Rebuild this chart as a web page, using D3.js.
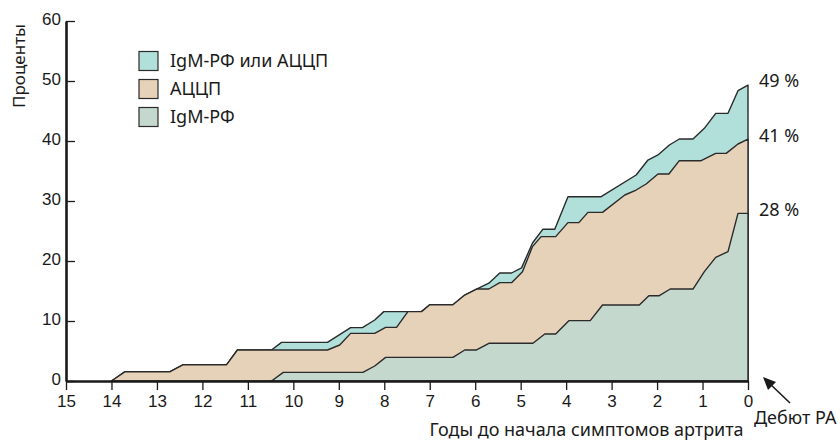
<!DOCTYPE html>
<html>
<head>
<meta charset="utf-8">
<script src="https://cdn.jsdelivr.net/npm/d3@7"></script>
<style>
  body { margin: 0; background: #fff; }
  svg { font-family: "Noto Sans", "Open Sans", sans-serif; }
  .axis path, .axis line { stroke: #1a1a1a; }
  .axis text { font-size: 17px; fill: #1a1a1a; }
</style>
</head>
<body>
<svg id="chart"></svg>
<script>
// years before onset, percent positive
var anyPos = [[14,0],[13.7,1.55],[12.71,1.55],[12.43,2.7],[11.47,2.7],[11.23,5.17],[10.48,5.17],[10.26,6.44],
  [9.25,6.44],[8.74,8.9],[8.48,8.9],[8.21,10.17],[8.01,11.56],[7.48,11.56],[7.18,11.56],[7.0,12.72],[6.49,12.72],
  [6.23,14.33],[5.97,15.33],[5.7,16.3],[5.46,18.0],[5.2,18.0],[4.98,18.85],[4.74,23.0],[4.51,25.3],[4.25,25.3],
  [3.96,30.72],[3.23,30.72],[2.46,34.33],[2.2,36.83],[1.98,37.67],[1.73,39.33],[1.51,40.33],[1.21,40.33],
  [0.96,42.11],[0.71,44.61],[0.44,44.61],[0.22,48.39],[0,49.33]];
var acpa = [[14,0],[13.7,1.55],[12.71,1.55],[12.43,2.7],[11.47,2.7],[11.23,5.17],[9.25,5.17],[8.98,6.0],
  [8.74,7.94],[8.21,7.94],[7.97,8.94],[7.73,8.94],[7.48,11.56],[7.18,11.56],[7.0,12.72],[6.49,12.72],[6.23,14.33],
  [5.97,15.33],[5.7,15.33],[5.46,16.39],[5.2,16.39],[4.96,18.22],[4.74,22.4],[4.55,24.06],[4.23,24.06],
  [3.96,26.39],[3.72,26.39],[3.52,28.11],[3.2,28.11],[2.71,31],[2.46,31.83],[2.24,32.83],[1.98,34.5],
  [1.74,34.5],[1.51,36.72],[1.03,36.72],[0.71,37.94],[0.48,37.94],[0.22,39.5],[0,40.3]];
var rf = [[10.48,0],[10.22,1.44],[8.47,1.44],[8.21,2.5],[7.97,3.94],[6.49,3.94],[6.23,5.17],[5.97,5.17],
  [5.7,6.28],[4.73,6.28],[4.47,7.83],[4.23,7.83],[3.94,10.06],[3.47,10.06],[3.2,12.67],[2.39,12.67],
  [2.18,14.22],[1.95,14.22],[1.71,15.33],[1.21,15.33],[0.96,18.22],[0.71,20.61],[0.44,21.56],[0.22,27.94],[0,27.94]];

var seriesNames = ["IgM-РФ или АЦЦП", "АЦЦП", "IgM-РФ"];
var seriesColors = ["#b1dfda", "#e6d2b9", "#c5d8cd"];
var endLabels = ["49 %", "41 %", "28 %"];
var endValues = [49.33, 40.3, 27.94];
var xTicks = d3.range(0, 16);
var yTicks = [0, 10, 20, 30, 40, 50, 60];

var width = 840, height = 441;
var margin = {top: 21, right: 92, bottom: 60, left: 66};
var innerwidth = width - margin.left - margin.right,
    innerheight = height - margin.top - margin.bottom;

var x = d3.scaleLinear().domain([15, 0]).range([0, innerwidth]);
var y = d3.scaleLinear().domain([0, 60]).range([innerheight, 0]);

var svg = d3.select("#chart")
    .attr("width", width)
    .attr("height", height)
    .append("g")
    .attr("transform", "translate(" + margin.left + "," + margin.top + ")");

var area = d3.area()
    .x(function(d) { return x(d[0]); })
    .y0(y(0))
    .y1(function(d) { return y(d[1]); });

[anyPos, acpa, rf].forEach(function(s, i) {
    svg.append("path")
        .datum(s)
        .attr("d", area)
        .attr("fill", seriesColors[i])
        .attr("stroke", "#2a2a2a")
        .attr("stroke-width", 1.4)
        .attr("stroke-linejoin", "round");
});

svg.append("g")
    .attr("class", "x axis")
    .attr("transform", "translate(0," + innerheight + ")")
    .call(d3.axisBottom(x).tickValues(xTicks).tickSize(9).tickSizeOuter(0).tickPadding(5))
    .call(function(g) { g.select(".domain").attr("stroke-width", 2.6); })
    .call(function(g) { g.selectAll(".tick line").attr("stroke-width", 1.3); });

svg.append("g")
    .attr("class", "y axis")
    .call(d3.axisLeft(y).tickValues(yTicks).tickSize(-9).tickSizeOuter(0).tickPadding(5))
    .call(function(g) { g.select(".domain").attr("stroke-width", 2.6); })
    .call(function(g) { g.selectAll(".tick line").attr("stroke-width", 1.3); })
    .call(function(g) { g.selectAll(".tick text").attr("dy", "0.2em"); });

// end labels
svg.selectAll(".endlabel")
    .data(endLabels)
    .enter().append("text")
    .attr("x", x(0) + 11)
    .attr("y", function(d, i) { return y(endValues[i]) - 4; })
    .attr("dy", "0.35em")
    .attr("font-size", 18)
    .attr("fill", "#1a1a1a")
    .text(function(d) { return d; });

// legend
var legend = svg.append("g").attr("transform", "translate(73,40)");
seriesNames.forEach(function(name, i) {
    var row = legend.append("g").attr("transform", "translate(0," + (i * 28) + ")");
    row.append("rect")
        .attr("x", 0).attr("y", -9.5)
        .attr("width", 19).attr("height", 19)
        .attr("fill", seriesColors[i])
        .attr("stroke", "#2a2a2a")
        .attr("stroke-width", 1.2);
    row.append("text")
        .attr("x", 31).attr("y", 0)
        .attr("dy", "0.35em")
        .attr("font-size", 18)
        .attr("fill", "#1a1a1a")
        .text(name);
});

// axis titles
svg.append("text")
    .attr("transform", "translate(-47," + y(52.5) + ") rotate(-90)")
    .attr("text-anchor", "middle")
    .attr("dy", "0.35em")
    .attr("font-size", 17)
    .attr("fill", "#1a1a1a")
    .text("Проценты");

svg.append("text")
    .attr("x", x(3.55))
    .attr("y", innerheight + 55)
    .attr("text-anchor", "middle")
    .attr("font-size", 18)
    .attr("fill", "#1a1a1a")
    .text("Годы до начала симптомов артрита");

// onset annotation
var tip = [x(0) + 15, innerheight - 4], tail = [x(0) + 42, innerheight + 22];
svg.append("line")
    .attr("x1", tail[0]).attr("y1", tail[1])
    .attr("x2", tip[0] + 5).attr("y2", tip[1] + 5)
    .attr("stroke", "#1a1a1a")
    .attr("stroke-width", 1.6);
svg.append("path")
    .attr("d", "M" + tip[0] + "," + tip[1] + "L" + (tip[0] + 13) + "," + (tip[1] + 5) + "L" + (tip[0] + 5) + "," + (tip[1] + 13) + "Z")
    .attr("fill", "#1a1a1a");
svg.append("text")
    .attr("x", x(0) + 6)
    .attr("y", innerheight + 43)
    .attr("font-size", 18)
    .attr("fill", "#1a1a1a")
    .text("Дебют РА");
</script>
</body>
</html>
